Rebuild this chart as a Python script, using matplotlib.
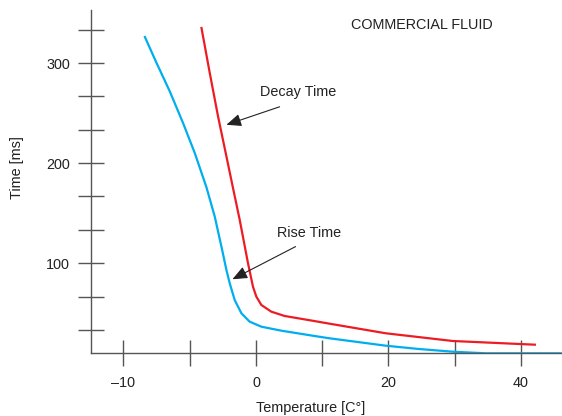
import matplotlib
matplotlib.use("Agg")
import matplotlib.pyplot as plt

plt.rcParams['font.family'] = ['Liberation Sans', 'DejaVu Sans']

# decay time (red) curve, temperature vs time
decay_temp = [-8.22, -6.97, -5.72, -4.56, -3.46, -2.45, -1.2, -0.45, 0.06, 0.81, 2.32,
              4.32, 8.84, 11.1, 19.6, 29.7, 42.1]
decay_time = [335, 290, 246.6, 210, 175, 143.3, 100, 76.6, 66.6, 58.3, 51.6,
              47.3, 42.2, 39.6, 30, 22.3, 18.6]

# rise time (cyan) curve
rise_temp = [-16.76, -15.0, -13.0, -11.0, -9.23, -7.47, -6.22, -5.21, -4.46, -3.96, -3.21,
             -2.2, -0.95, 0.81, 3.83, 8.84, 11.1, 19.6, 24.6, 29.7, 34.7, 46.0]
rise_time = [326, 300, 271.6, 240, 210, 175.8, 146.6, 116.6, 93.3, 80, 63.3,
             50, 41.6, 36.6, 32.6, 27.3, 25, 17.6, 14.3, 11.6, 10, 10]

x_ticks = [-20, -10, 0, 10, 20, 30, 40]
x_tick_labels = ['\u201310', '', '0', '', '20', '', '40']
y_ticks = [100 / 3 * k for k in range(1, 11)]
y_tick_labels = ['', '', '100', '', '', '200', '', '', '300', '']

RED = '#ed1c24'
CYAN = '#00aeef'
AXC = '#555555'
TXT = '#222222'
FS = 10.4

fig = plt.figure(figsize=(5.62, 4.16), dpi=100)
ax = fig.add_axes([91 / 562, 1 - 353.3 / 416, 1 - 91 / 562, (353.3 - 10) / 416])

ax.plot(rise_temp, rise_time, color=CYAN, lw=1.6, solid_joinstyle='round')
ax.plot(decay_temp, decay_time, color=RED, lw=1.6, solid_joinstyle='round')

ax.set_xlim(-24.9, 46.2)
ax.set_ylim(10, 353)

for s in ['top', 'right']:
    ax.spines[s].set_visible(False)
for s in ['left', 'bottom']:
    ax.spines[s].set_color(AXC)
    ax.spines[s].set_linewidth(1.0)

ax.set_xticks(x_ticks)
ax.set_xticklabels(x_tick_labels)
ax.set_yticks(y_ticks)
ax.set_yticklabels(y_tick_labels)
ax.tick_params(axis='both', direction='inout', length=19, width=1.0, color=AXC,
               labelsize=FS, labelcolor=TXT)
ax.tick_params(axis='x', pad=6.5)
ax.tick_params(axis='y', pad=5.5)

ax.set_xlabel('Temperature [C\u00b0]', fontsize=FS, color=TXT)
ax.xaxis.set_label_coords((311 - 91) / (562 - 91), -(408 - 353.3) / (353.3 - 10), transform=ax.transAxes)
ax.xaxis.label.set_va('center')
ax.set_ylabel('Time [ms]', fontsize=FS, color=TXT)
ax.yaxis.set_label_coords(-(91 - 17) / (562 - 91), (353.3 - 168) / (353.3 - 10), transform=ax.transAxes)
ax.yaxis.label.set_va('center')

ax.text(25.0, 338.3, 'COMMERCIAL FLUID', fontsize=FS, ha='center', va='center', color=TXT)

arrow = dict(arrowstyle='-|>,head_length=0.9,head_width=0.38', color=TXT, lw=0.8,
             shrinkA=0, shrinkB=0)
ax.text(6.4, 270.6, 'Decay Time', fontsize=FS, ha='center', va='center', color=TXT)
ax.annotate('', xy=(-4.46, 238.3), xytext=(3.57, 256.3), arrowprops=arrow)
ax.text(8.0, 130.6, 'Rise Time', fontsize=FS, ha='center', va='center', color=TXT)
ax.annotate('', xy=(-3.55, 84), xytext=(5.98, 116.6), arrowprops=arrow)

fig.savefig('out.png', dpi=100)
